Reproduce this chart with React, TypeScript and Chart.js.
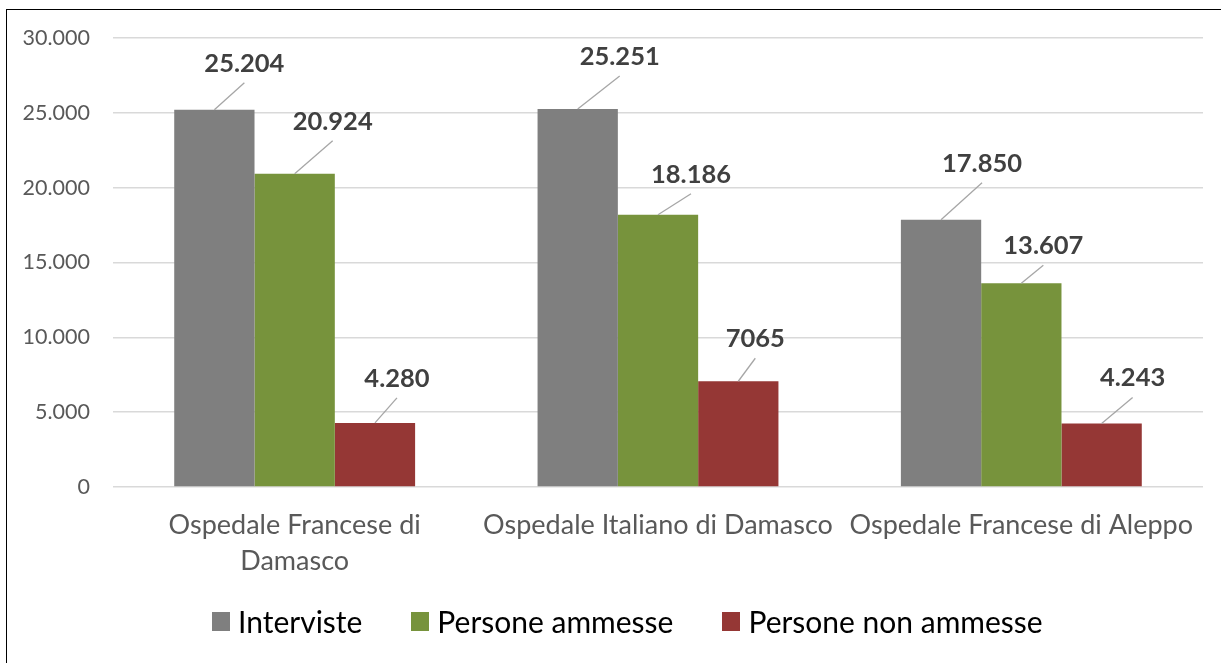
import React, { useEffect, useRef } from "react";
import { Chart, registerables } from "chart.js";

Chart.register(...registerables);

const categories: (string | string[])[] = [
  ["Ospedale Francese di", "Damasco"],
  "Ospedale Italiano di Damasco",
  "Ospedale Francese di Aleppo",
];
const seriesNames = ["Interviste", "Persone ammesse", "Persone non ammesse"];
const interviste = [25204, 25251, 17850];
const personeAmmesse = [20924, 18186, 13607];
const personeNonAmmesse = [4280, 7065, 4243];
const intervisteLabels = ["25.204", "25.251", "17.850"];
const ammesseLabels = ["20.924", "18.186", "13.607"];
const nonAmmesseLabels = ["4.280", "7065", "4.243"];
const yMin = 0;
const yMax = 30000;
const yStep = 5000;

const seriesColors = ["#7f7f7f", "#77933c", "#953735"];
// label offsets (px) relative to the top-centre of each bar, per series / category
const labelDx = [
  [30, 42, 41],
  [38, 33, 22],
  [22, 17, 31],
];
const labelDy = [
  [-47, -53, -57],
  [-53, -41, -38],
  [-45, -43, -46],
];

const FONT = "Lato, 'Open Sans', sans-serif";

const formatTick = (v: number) => {
  if (v === 0) return "0";
  const th = Math.floor(v / 1000);
  const rest = String(v % 1000).padStart(3, "0");
  return th + "." + rest;
};

const dataLabelPlugin = {
  id: "dataLabelsLeader",
  afterDatasetsDraw(chart: any) {
    const ctx = chart.ctx;
    const texts = [intervisteLabels, ammesseLabels, nonAmmesseLabels];
    ctx.save();
    chart.data.datasets.forEach((_: any, di: number) => {
      const meta = chart.getDatasetMeta(di);
      meta.data.forEach((el: any, i: number) => {
        const x = el.x;
        const top = el.y;
        const lx = x + labelDx[di][i];
        const ly = top + labelDy[di][i];
        ctx.beginPath();
        ctx.strokeStyle = "#a6a6a6";
        ctx.lineWidth = 1.3;
        ctx.moveTo(x, top);
        ctx.lineTo(lx, ly + 20);
        ctx.stroke();
        ctx.font = `bold 25.5px ${FONT}`;
        ctx.fillStyle = "#404040";
        ctx.textAlign = "center";
        ctx.textBaseline = "alphabetic";
        ctx.fillText(texts[di][i], lx, ly + 9);
      });
    });
    ctx.restore();
  },
};

export default function App() {
  const canvasRef = useRef<HTMLCanvasElement | null>(null);

  useEffect(() => {
    const canvas = canvasRef.current;
    if (!canvas) return;
    const chart = new Chart(canvas, {
      type: "bar",
      data: {
        labels: categories,
        datasets: [
          { label: seriesNames[0], data: interviste, backgroundColor: seriesColors[0] },
          { label: seriesNames[1], data: personeAmmesse, backgroundColor: seriesColors[1] },
          { label: seriesNames[2], data: personeNonAmmesse, backgroundColor: seriesColors[2] },
        ],
      },
      options: {
        responsive: false,
        animation: false,
        events: [],
        datasets: {
          bar: { categoryPercentage: 0.663, barPercentage: 1.0 },
        },
        layout: { padding: { left: 0, right: 18, top: 38, bottom: 56 } },
        plugins: {
          legend: { display: false },
          tooltip: { enabled: false },
          title: { display: false },
        },
        scales: {
          x: {
            grid: { display: false, drawTicks: false },
            border: { display: false },
            ticks: {
              color: "#595959",
              font: { family: FONT, size: 27, lineHeight: "36px" },
              padding: 20,
              autoSkip: false,
              maxRotation: 0,
              minRotation: 0,
            },
            afterFit: (scale: any) => {
              scale.height = 120;
            },
          },
          y: {
            min: yMin,
            max: yMax,
            grid: { color: "#d9d9d9", lineWidth: 1.5, drawTicks: false },
            border: { display: false },
            ticks: {
              stepSize: yStep,
              color: "#595959",
              font: { family: FONT, size: 21.5 },
              padding: 23,
              callback: (v: any) => formatTick(Number(v)),
            },
            afterFit: (scale: any) => {
              scale.width = 113;
            },
          },
        },
      },
      plugins: [dataLabelPlugin],
    });
    return () => chart.destroy();
  }, []);

  return (
    <div
      style={{
        position: "fixed",
        left: 0,
        top: 0,
        width: 1221,
        height: 663,
        overflow: "hidden",
        background: "#fff",
      }}
    >
      <canvas ref={canvasRef} width={1221} height={663} style={{ position: "absolute", left: 0, top: 0 }} />
      <div
        style={{
          position: "absolute",
          left: 6,
          top: 9,
          width: 1240,
          height: 700,
          border: "1.5px solid #000",
          boxSizing: "border-box",
          pointerEvents: "none",
        }}
      />
      <div
        style={{
          position: "absolute",
          left: 212,
          top: 601,
          height: 40,
          display: "flex",
          alignItems: "center",
          fontFamily: FONT,
          fontSize: 30,
          color: "#000",
          whiteSpace: "nowrap",
        }}
      >
        {seriesNames.map((name, i) => (
          <div key={name} style={{ display: "flex", alignItems: "center", marginRight: 49 }}>
            <span
              style={{
                display: "inline-block",
                width: 18,
                height: 19,
                background: seriesColors[i],
                marginRight: 8,
              }}
            />
            <span style={{ lineHeight: "40px" }}>{name}</span>
          </div>
        ))}
      </div>
    </div>
  );
}
